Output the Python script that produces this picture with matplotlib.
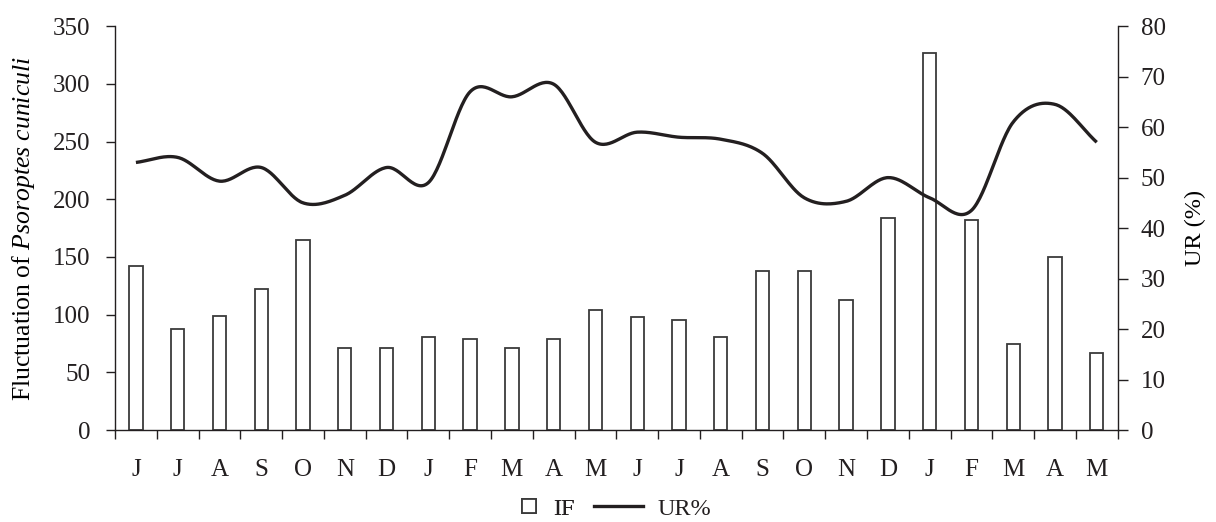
import numpy as np
import matplotlib.pyplot as plt
from matplotlib.lines import Line2D

months = ['J', 'J', 'A', 'S', 'O', 'N', 'D', 'J', 'F', 'M', 'A', 'M',
          'J', 'J', 'A', 'S', 'O', 'N', 'D', 'J', 'F', 'M', 'A', 'M']
if_values = [142, 88, 99, 122, 165, 71, 71, 81, 79, 71, 79, 104,
             98, 95, 81, 138, 138, 113, 184, 327, 182, 75, 150, 67]
ur_values = [53, 54, 49.3, 52, 45, 46.5, 52, 49, 67, 66, 68.5, 57,
             59, 58, 57.6, 54.8, 46, 45.3, 50, 46, 43.5, 61, 64.5, 57]

ink = '#231f20'
plt.rcParams['font.family'] = ['Liberation Serif', 'DejaVu Serif']
plt.rcParams['mathtext.fontset'] = 'custom'
plt.rcParams['mathtext.rm'] = 'Liberation Serif'
plt.rcParams['mathtext.it'] = 'Liberation Serif:italic'
plt.rcParams['text.color'] = ink
plt.rcParams['axes.edgecolor'] = ink
plt.rcParams['xtick.color'] = ink
plt.rcParams['ytick.color'] = ink


def catmull_rom(x, y, n=30):
    # smooth curve through every point, like the spreadsheet "smoothed line"
    x = np.asarray(x, float)
    y = np.asarray(y, float)
    px = np.concatenate([[2 * x[0] - x[1]], x, [2 * x[-1] - x[-2]]])
    py = np.concatenate([[2 * y[0] - y[1]], y, [2 * y[-1] - y[-2]]])
    xs, ys = [], []
    t = np.linspace(0, 1, n, endpoint=False)
    for i in range(1, len(px) - 2):
        for p, out in ((px, xs), (py, ys)):
            p0, p1, p2, p3 = p[i - 1], p[i], p[i + 1], p[i + 2]
            out.extend(0.5 * (2 * p1 + (-p0 + p2) * t
                              + (2 * p0 - 5 * p1 + 4 * p2 - p3) * t ** 2
                              + (-p0 + 3 * p1 - 3 * p2 + p3) * t ** 3))
    xs.append(x[-1])
    ys.append(y[-1])
    return np.array(xs), np.array(ys)


fig = plt.figure(figsize=(12.16, 5.22), dpi=100)
ax = fig.add_axes([0.0946, 0.176, 0.8245, 0.774])
ax2 = ax.twinx()

pos = np.arange(len(months)) + 0.5
ax.bar(pos, if_values, width=0.32, facecolor='white', edgecolor='#3a3a3a',
       linewidth=1.3, zorder=2)

sx, sy = catmull_rom(pos, ur_values)
ax2.plot(sx, sy, color=ink, linewidth=2.4, solid_capstyle='butt')

ax.set_xlim(0, len(months))
ax.set_ylim(0, 350)
ax2.set_ylim(0, 80)
ax.set_yticks(np.arange(0, 351, 50))
ax2.set_yticks(np.arange(0, 81, 10))

ax.set_xticks(np.arange(0, len(months) + 1))
ax.set_xticklabels([])
ax.set_xticks(pos, minor=True)
ax.set_xticklabels(months, minor=True)
ax.tick_params(axis='x', which='major', direction='out', length=6.5, width=1)
ax.tick_params(axis='x', which='minor', length=0, pad=21, labelsize=18)
ax.tick_params(axis='y', direction='out', length=6.5, width=1, pad=11, labelsize=18)
ax2.tick_params(axis='y', direction='out', length=7.5, width=1, pad=9, labelsize=18)

for a in (ax, ax2):
    a.spines['top'].set_visible(False)
    for s in ('left', 'right', 'bottom'):
        a.spines[s].set_linewidth(1)
ax.spines['right'].set_visible(False)
ax2.spines['bottom'].set_visible(False)
ax2.spines['left'].set_visible(False)

ax.set_ylabel('Fluctuation of $\\it{Psoroptes\\ cuniculi}$', fontsize=18.5, labelpad=12)
ax2.set_ylabel('UR (%)', fontsize=17.5, labelpad=14)

# two legends so the square handle stays compact next to its label
sq = Line2D([], [], linestyle='none', marker='s', markersize=9.5,
            markerfacecolor='white', markeredgecolor='#3a3a3a', markeredgewidth=1.3)
ln = Line2D([], [], color=ink, linewidth=2.4)
leg1 = fig.legend([sq], ['IF'], loc='center right', bbox_to_anchor=(575 / 1216, 0.025),
                  frameon=False, fontsize=17.5, handlelength=0.8, handletextpad=0.6,
                  borderpad=0, borderaxespad=0)
fig.add_artist(leg1)
fig.legend([ln], ['UR%'], loc='center left', bbox_to_anchor=(594 / 1216, 0.025),
           frameon=False, fontsize=17.5, handlelength=2.0, handletextpad=0.6,
           borderpad=0, borderaxespad=0)

fig.savefig('out.png', dpi=100)
